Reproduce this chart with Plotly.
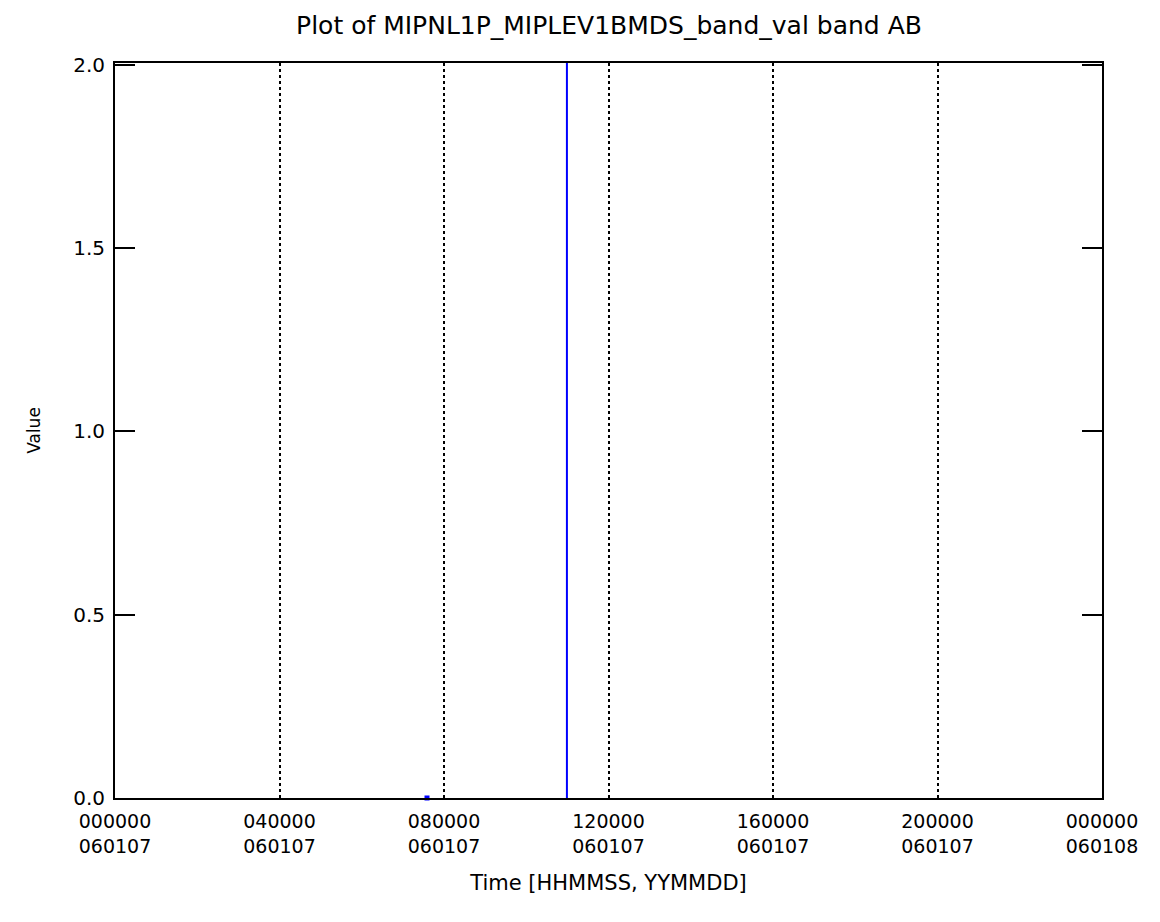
import plotly.graph_objects as go

# Data (time in seconds since 2006-01-07 00:00:00)
point_times = [27312]
point_values = [0.0]
spike_times = [39560, 39560]
spike_values = [0.0, 40.0]

x_tickvals = [0, 14400, 28800, 43200, 57600, 72000, 86400]
x_time_labels = ["000000", "040000", "080000", "120000", "160000", "200000", "000000"]
x_date_labels = ["060107", "060107", "060107", "060107", "060107", "060107", "060108"]
y_tickvals = [0.0, 0.5, 1.0, 1.5, 2.0]
y_ticktext = ["0.0", "0.5", "1.0", "1.5", "2.0"]

x_ticktext = [f"{t}<br>{d}" for t, d in zip(x_time_labels, x_date_labels)]

font = "DejaVu Sans"

fig = go.Figure()
fig.add_trace(go.Scatter(x=spike_times, y=spike_values, mode="lines",
                         line=dict(color="#0000ff", width=2), showlegend=False))
fig.add_trace(go.Scatter(x=point_times, y=point_values, mode="markers",
                         marker=dict(color="#0000ff", size=5, symbol="square"),
                         showlegend=False, cliponaxis=False))

fig.update_layout(
    width=1152, height=914,
    margin=dict(l=107, r=58, t=55, b=124),
    paper_bgcolor="white", plot_bgcolor="white",
    title=dict(text="Plot of MIPNL1P_MIPLEV1BMDS_band_val band AB",
               x=0.5217, xanchor="center", y=0.991, yanchor="top",
               font=dict(family=font, size=25, color="black")),
    font=dict(family=font, size=20, color="black"),
    xaxis=dict(
        range=[0, 86400], tickvals=x_tickvals, ticktext=x_ticktext,
        showgrid=True, gridcolor="black", griddash="dot", gridwidth=1.5,
        showline=True, linecolor="black", linewidth=2, mirror=True,
        ticks="", zeroline=False, ticklabelstandoff=5,
        tickfont=dict(size=19),
        title=dict(text="Time [HHMMSS, YYMMDD]", font=dict(size=21), standoff=20),
    ),
    yaxis=dict(
        range=[0, 2.005], tickvals=y_tickvals, ticktext=y_ticktext,
        showgrid=False, showline=True, linecolor="black", linewidth=2,
        mirror="allticks", ticks="inside", ticklen=20, tickwidth=1.5, tickcolor="black",
        zeroline=False, ticklabelstandoff=4,
        title=dict(text="Value", font=dict(size=17), standoff=28),
        tickfont=dict(size=20),
    ),
)

fig.write_html("out.html")
